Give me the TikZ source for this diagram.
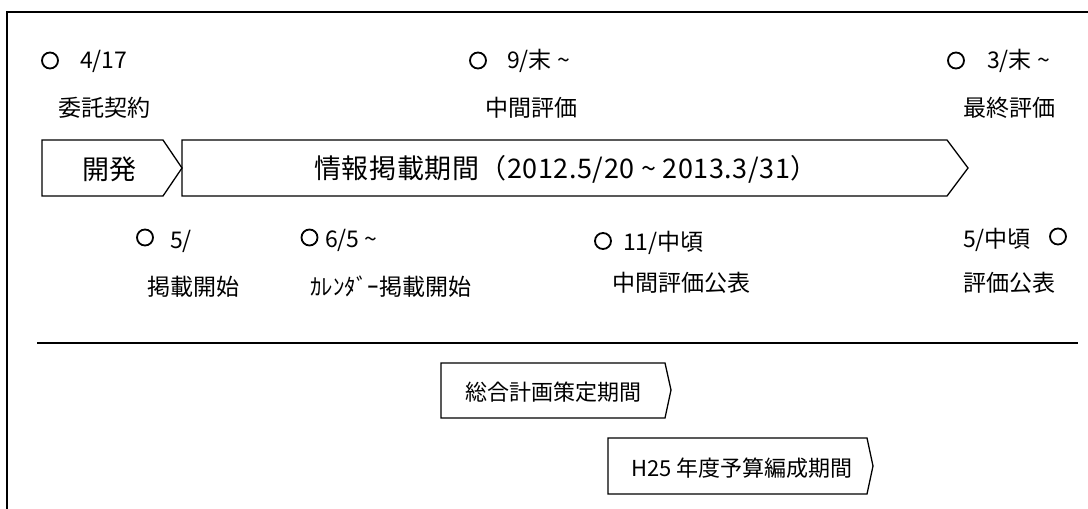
\documentclass[tikz,border=0pt]{standalone}
\usepackage{fontspec}
\setmainfont{Noto Sans CJK JP}
\newcommand{\wv}{\textasciitilde}
\begin{document}
\begin{tikzpicture}[x=1pt,y=-1pt,
  lbl/.style={anchor=base west,inner sep=0pt,font=\fontsize{23}{23}\selectfont},
  dotmark/.style={circle,draw,line width=1.8pt,minimum size=16pt,inner sep=0pt},
  frameline/.style={line width=1.5pt},
  boxline/.style={draw,line width=1.3pt,line join=miter},
  bigtext/.style={anchor=base,inner sep=0pt,font=\fontsize{27}{27}\selectfont\addfontfeature{LetterSpace=2}},
  smalltext/.style={anchor=base,inner sep=0pt,font=\fontsize{22}{22}\selectfont}]
\useasboundingbox (0,0) rectangle (1088,509);

% frame
\coordinate (f0) at (7,509);
\coordinate (f1) at (7,12);
\coordinate (f2) at (1088,12);
\draw[frameline] (f0) -- (f1) -- (f2);

% top milestones
\node[dotmark] (cA) at (50,60.5) {};
\node[lbl] (tA) at (80,68) {4/17};
\node[lbl] (lA) at (58,116) {委託契約};
\node[dotmark] (cB) at (478,60.5) {};
\node[lbl] (tB) at (507,68) {9/末 \wv};
\node[lbl] (lB) at (485,116) {中間評価};
\node[dotmark] (cC) at (956,60.5) {};
\node[lbl] (tC) at (987,68) {3/末 \wv};
\node[lbl] (lC) at (963,116) {最終評価};

% development / publication bars
\coordinate (d1) at (42,140);
\coordinate (d2) at (163,140);
\coordinate (d3) at (182,168);
\coordinate (d4) at (163,196);
\coordinate (d5) at (42,196);
\draw[boxline] (d1) -- (d2) -- (d3) -- (d4) -- (d5) -- cycle;
\node[bigtext] (dev) at (109.5,179) {開発};

\coordinate (p1) at (182,140);
\coordinate (p2) at (947,140);
\coordinate (p3) at (968,168);
\coordinate (p4) at (947,196);
\coordinate (p5) at (182,196);
\draw[boxline] (p1) -- (p2) -- (p3) -- (p4) -- (p5) -- cycle;
\node[bigtext] (pub) at (566,178) {情報掲載期間（2012.5/20 \wv\ 2013.3/31）};

% lower milestones
\node[dotmark] (cD) at (145,237.5) {};
\node[lbl] (tD) at (170,248) {5/};
\node[lbl] (lD) at (147,295) {掲載開始};
\node[dotmark] (cE) at (309.5,237.5) {};
\node[lbl] (tE) at (325,247) {6/5 \wv};
\node[lbl] (lE) at (310,295) {ｶﾚﾝﾀﾞｰ掲載開始};
\node[dotmark] (cF) at (603,241) {};
\node[lbl] (tF) at (623,250) {11/中頃};
\node[lbl] (lF) at (612,291) {中間評価公表};
\node[dotmark] (cG) at (1058,236.5) {};
\node[lbl] (tG) at (963,247) {5/中頃};
\node[lbl] (lG) at (963,291) {評価公表};

% separator
\coordinate (s1) at (37,343);
\coordinate (s2) at (1078,343);
\draw[frameline] (s1) -- (s2);

% planning bars
\coordinate (g1) at (441,363);
\coordinate (g2) at (665,363);
\coordinate (g3) at (671,390);
\coordinate (g4) at (665,418);
\coordinate (g5) at (441,418);
\draw[boxline] (g1) -- (g2) -- (g3) -- (g4) -- (g5) -- cycle;
\node[smalltext] (plan) at (553,400) {総合計画策定期間};

\coordinate (h1) at (608,438);
\coordinate (h2) at (867,438);
\coordinate (h3) at (873,466);
\coordinate (h4) at (867,494);
\coordinate (h5) at (608,494);
\draw[boxline] (h1) -- (h2) -- (h3) -- (h4) -- (h5) -- cycle;
\node[smalltext] (budget) at (742,476) {H25 年度予算編成期間};
\end{tikzpicture}
\end{document}
